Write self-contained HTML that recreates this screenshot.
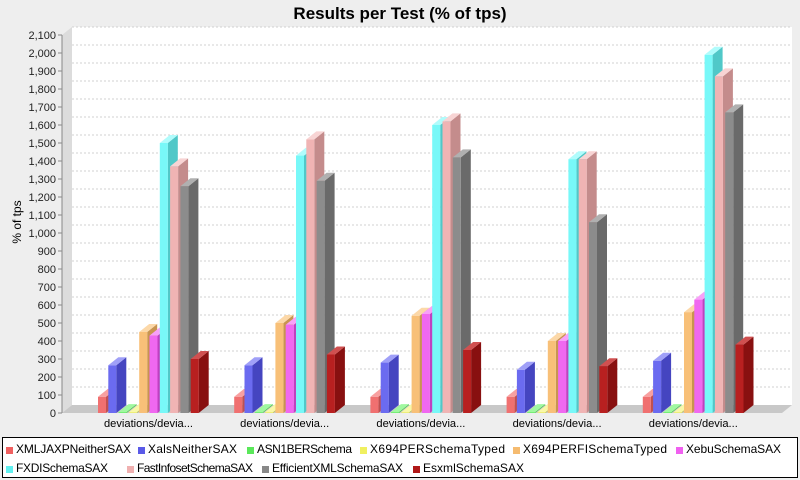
<!DOCTYPE html>
<html><head><meta charset="utf-8"><style>
html,body{margin:0;padding:0;background:#eeeeee;}
svg{display:block;font-family:"Liberation Sans","DejaVu Sans",sans-serif;}
</style></head><body>
<svg width="800" height="480" viewBox="0 0 800 480" xmlns="http://www.w3.org/2000/svg">
<rect width="800" height="480" fill="#eeeeee"/>
<text x="400" y="19" text-anchor="middle" font-size="17" font-weight="bold" fill="#000">Results per Test (% of tps)</text>
<polygon points="62,413 72,405 72,27 62,35" fill="#dcdcdc"/>
<rect x="72" y="27" width="720" height="378" fill="#ffffff"/>
<polygon points="62,413 782,413 792,405 72,405" fill="#c8c8c8"/>
<g id="grid" stroke="#d0d0d0" stroke-dasharray="2,2" stroke-width="1"></g>
<g id="axis" font-size="11" fill="#222"></g>
<line x1="62" y1="35" x2="62" y2="413" stroke="#888"/>
<text transform="translate(21,222) rotate(-90)" text-anchor="middle" font-size="12" fill="#000">% of tps</text>
<g id="bars"></g>
<g id="cats" font-size="11" fill="#000"></g>
<rect x="2.5" y="437.5" width="795" height="40" fill="#fff" stroke="#000"/>
<g font-size="12" fill="#000" lengthAdjust="spacingAndGlyphs">
<rect x="6" y="447" width="7" height="7" fill="#f06060"/><text x="16" y="453" textLength="115">XMLJAXPNeitherSAX</text>
<rect x="138" y="447" width="7" height="7" fill="#5a5ae8"/><text x="148" y="453" textLength="89">XalsNeitherSAX</text>
<rect x="247" y="447" width="7" height="7" fill="#5ae85a"/><text x="257" y="453" textLength="95">ASN1BERSchema</text>
<rect x="360" y="447" width="7" height="7" fill="#f0f060"/><text x="370" y="453" textLength="135">X694PERSchemaTyped</text>
<rect x="513" y="447" width="7" height="7" fill="#f5bb70"/><text x="523" y="453" textLength="144">X694PERFISchemaTyped</text>
<rect x="676" y="447" width="7" height="7" fill="#f060f0"/><text x="686" y="453" textLength="95">XebuSchemaSAX</text>
<rect x="6" y="466" width="7" height="7" fill="#60f0f0"/><text x="16" y="472" textLength="92">FXDISchemaSAX</text>
<rect x="127" y="466" width="7" height="7" fill="#f0b0b0"/><text x="137" y="472" textLength="116">FastInfosetSchemaSAX</text>
<rect x="262" y="466" width="7" height="7" fill="#888888"/><text x="272" y="472" textLength="131">EfficientXMLSchemaSAX</text>
<rect x="413" y="466" width="7" height="7" fill="#b01818"/><text x="423" y="472" textLength="101">EsxmlSchemaSAX</text>
</g>
<script>
var NS="http://www.w3.org/2000/svg";
function el(p,t,a,txt){var e=document.createElementNS(NS,t);for(var k in a)e.setAttribute(k,a[k]);if(txt!==undefined)e.textContent=txt;p.appendChild(e);return e;}
function Y(v){return 413-v*0.18;}
var grid=document.getElementById('grid'),axis=document.getElementById('axis');
for(var v=0;v<=2100;v+=100){var y=Y(v);
 if(v>0)el(grid,'line',{x1:72,y1:y-8,x2:792,y2:y-8});
 el(axis,'line',{x1:58,y1:y,x2:62,y2:y,stroke:'#888'});
 el(axis,'text',{x:56,y:y+4,'text-anchor':'end'},v.toLocaleString('en-US'));}
var cols=[['#f07070','#c05050','#f8a0a0'],['#6b6bf0','#4545c0','#a0a0f8'],['#6ef06e','#48c048','#a0f8a0'],['#f0f070','#c0c048','#f8f8a8'],['#f8c078','#c89450','#fcd8a8'],['#f068f0','#c040c0','#f8a0f8'],['#78f8f8','#50c8c8','#b0fcfc'],['#f0b4b4','#c48c8c','#f8d4d4'],['#8c8c8c','#6a6a6a','#b0b0b0'],['#b82020','#881010','#d05050']];
var data=[[90,265,5,5,450,430,1500,1370,1260,300],[90,265,5,5,500,490,1430,1520,1290,325],[90,280,5,5,540,550,1600,1620,1420,350],[90,240,5,5,400,400,1410,1410,1060,260],[90,290,5,5,560,630,1990,1870,1670,380]];
var bars=document.getElementById('bars'),cats=document.getElementById('cats');
var dx=10,dy=8,w=8;
for(var g=0;g<5;g++){var g0=98+g*136.2;
 for(var i=0;i<10;i++){var x=g0+i*10.3,v=data[g][i],yt=Y(v),yb=413,c=cols[i];
  el(bars,'polygon',{points:[x+w,yb,x+w+dx,yb-dy,x+w+dx,yt-dy,x+w,yt].join(','),fill:c[1]});
  el(bars,'polygon',{points:[x,yt,x+dx,yt-dy,x+w+dx,yt-dy,x+w,yt].join(','),fill:c[2]});
  el(bars,'rect',{x:x,y:yt,width:w,height:yb-yt,fill:c[0]});}
 el(cats,'text',{x:g0+6,y:427,textLength:89,lengthAdjust:'spacingAndGlyphs'},'deviations/devia...');}
</script>
</svg>
</body></html>
